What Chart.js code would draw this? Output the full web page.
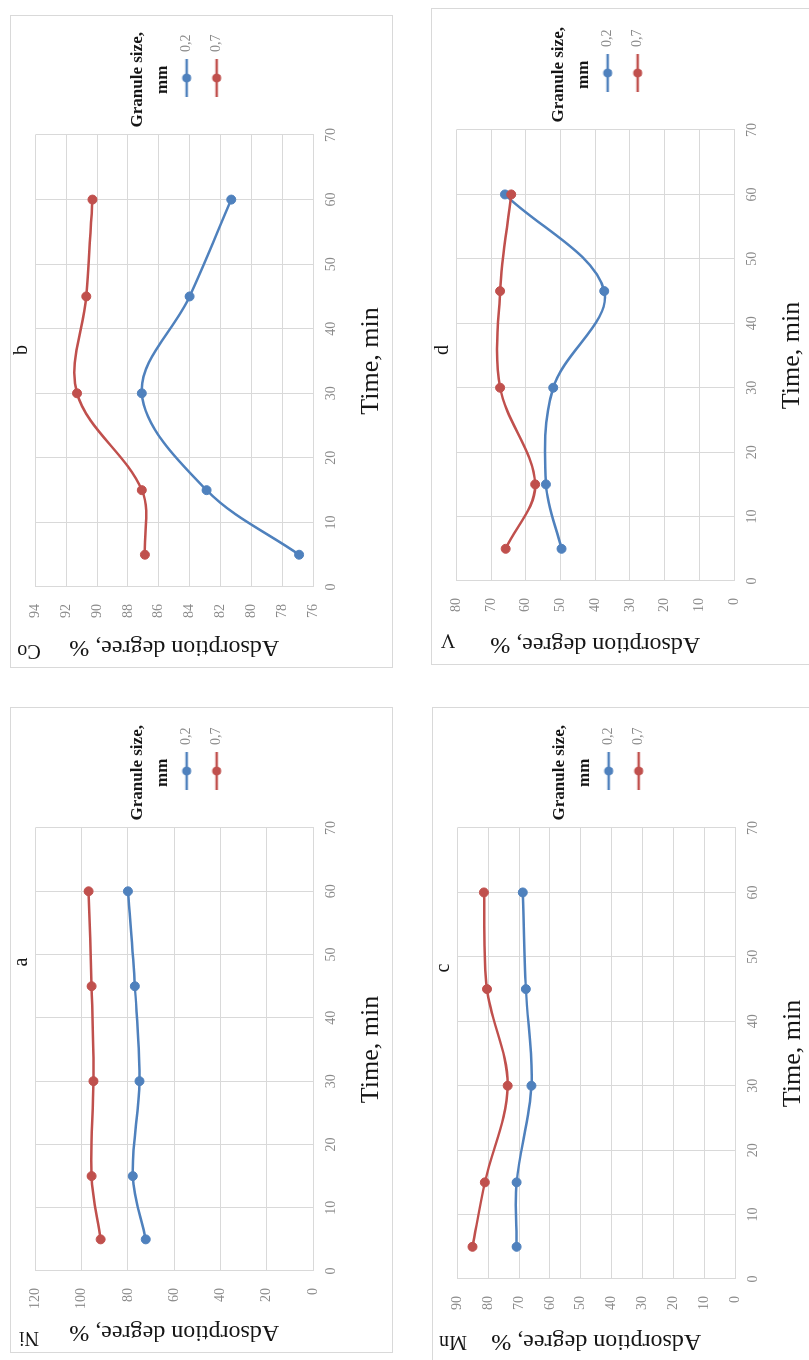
<!DOCTYPE html>
<html>
<head>
<meta charset="utf-8">
<script src="https://cdn.jsdelivr.net/npm/chart.js@4.4.1/dist/chart.umd.min.js"></script>
<style>
html, body { margin: 0; padding: 0; background: #fff; }
body { width: 809px; height: 1360px; overflow: hidden; position: relative; }
.panel { position: absolute; transform-origin: 0 0; transform: rotate(-90deg); }
.panel canvas { display: block; background: #fff; }
</style>
</head>
<body>
<div class="panel" id="pa"><canvas id="ca"></canvas></div>
<div class="panel" id="pb"><canvas id="cb"></canvas></div>
<div class="panel" id="pc"><canvas id="cc"></canvas></div>
<div class="panel" id="pd"><canvas id="cd"></canvas></div>
<script>
// ---------- data ----------
const timeMin = [5, 15, 30, 45, 60];
const granuleLabels = ['0,2', '0,7'];

const niSize02 = [72.3, 77.9, 75.0, 77.0, 80.0];
const niSize07 = [91.8, 95.7, 94.9, 95.7, 97.0];
const coSize02 = [76.9, 82.9, 87.1, 84.0, 81.3];
const coSize07 = [86.9, 87.1, 91.3, 90.7, 90.3];
const mnSize02 = [70.8, 70.8, 66.0, 67.8, 68.8];
const mnSize07 = [85.1, 81.1, 73.7, 80.4, 81.4];
const vSize02  = [49.7, 54.2, 52.1, 37.4, 66.0];
const vSize07  = [65.8, 57.3, 67.4, 67.4, 64.2];

const timeTicks = [0, 70, 10];      // min, max, step
const niRange = [0, 120, 20];
const coRange = [76, 94, 2];
const mnRange = [0, 90, 10];
const vRange  = [0, 80, 10];

const panelLetters = ['a', 'b', 'c', 'd'];
const elementNames = ['Ni', 'Co', 'Mn', 'V'];
const axisTitles = ['Time, min', 'Adsorption degree, %'];
const legendTitle = ['Granule size,', 'mm'];

// ---------- layout / style ----------
const H = 383;
const CHART_TOP = 20;
const CHART_BOTTOM = 303;
const layoutSpec = {
  a: { left: 10,  top: 707, W: 646, chartLeft: 82, chartRight: 525, letterU: 391, elemU: 16, elemV: 19 },
  b: { left: 10,  top: 15,  W: 653, chartLeft: 81, chartRight: 533, letterU: 318, elemU: 18, elemV: 19 },
  c: { left: 432, top: 707, W: 655, chartLeft: 83, chartRight: 534, letterU: 394, elemU: 21, elemV: 21 },
  d: { left: 431, top: 8,   W: 657, chartLeft: 84, chartRight: 535, letterU: 315, elemU: 26, elemV: 17 }
};
const BLUE = '#4F81BD', RED = '#C0504D';
const SERIF = '"Liberation Serif", "Times New Roman", serif';
const TICK_COLOR = '#8a8a8a';
const GRID_COLOR = '#d9d9d9';
const TEXT_DARK = '#151515';
const LEGEND_FONT = 14;
const ICON_W = 60;

function makeIcon(color) {
  const c = document.createElement('canvas');
  c.width = ICON_W; c.height = 12;
  const g = c.getContext('2d');
  g.strokeStyle = color; g.fillStyle = color; g.lineWidth = 2.5;
  g.beginPath(); g.moveTo(22, 6); g.lineTo(ICON_W, 6); g.stroke();
  g.beginPath(); g.arc(41, 6, 4.5, 0, Math.PI * 2); g.fill();
  return c;
}
const icons = [makeIcon(BLUE), makeIcon(RED)];

const measureCtx = document.createElement('canvas').getContext('2d');
measureCtx.font = LEGEND_FONT + 'px ' + SERIF;
const legendTextW = Math.max(...granuleLabels.map(t => measureCtx.measureText(t).width));
const LEGEND_PAD = 16;
const legendWidth = LEGEND_PAD + ICON_W + LEGEND_FONT / 2 + legendTextW + 10;

const decorPlugin = {
  id: 'panelDecor',
  afterDraw(chart, args, o) {
    const c = chart.ctx;
    c.save();
    c.strokeStyle = GRID_COLOR; c.lineWidth = 1;
    c.strokeRect(0.5, 0.5, chart.width - 1, chart.height - 1);
    c.fillStyle = TEXT_DARK;
    c.font = '20px ' + SERIF;
    c.textAlign = 'center'; c.textBaseline = 'middle';
    c.fillText(o.letter, o.letterU, o.letterV);
    c.translate(o.elemU, o.elemV);
    c.rotate(-Math.PI / 2);
    c.fillText(o.element, 0, 0);
    c.restore();
  }
};

function points(xs, ys) { return xs.map((x, i) => ({ x: x, y: ys[i] })); }

function seriesStyle(color) {
  return {
    borderColor: color, backgroundColor: color,
    pointBackgroundColor: color, pointBorderColor: color,
    borderWidth: 2.5, pointRadius: 4.5, pointHoverRadius: 4.5, pointBorderWidth: 1,
    tension: 0.35, fill: false
  };
}

function buildPanel(key, letter, element, s02, s07, range) {
  const L = layoutSpec[key];
  const wrap = document.getElementById('p' + key);
  wrap.style.left = L.left + 'px';
  wrap.style.top = (L.top + L.W) + 'px';
  const cv = document.getElementById('c' + key);
  cv.width = L.W; cv.height = H;
  cv.style.width = L.W + 'px'; cv.style.height = H + 'px';
  const padRight = Math.max(0, L.W - L.chartRight - legendWidth);

  new Chart(cv.getContext('2d'), {
    type: 'line',
    data: {
      datasets: [
        Object.assign({ label: granuleLabels[0], data: points(timeMin, s02), order: 1 }, seriesStyle(BLUE)),
        Object.assign({ label: granuleLabels[1], data: points(timeMin, s07), order: 0 }, seriesStyle(RED))
      ]
    },
    options: {
      responsive: false,
      animation: false,
      devicePixelRatio: 1,
      events: [],
      layout: { padding: { top: CHART_TOP, right: padRight, bottom: 0, left: 0 } },
      scales: {
        x: {
          type: 'linear', position: 'bottom',
          min: timeTicks[0], max: timeTicks[1],
          ticks: { stepSize: timeTicks[2], padding: 10, maxRotation: 0, color: TICK_COLOR, font: { family: SERIF, size: 14 } },
          grid: { color: GRID_COLOR, lineWidth: 1, drawTicks: false },
          border: { color: GRID_COLOR },
          title: { display: true, text: axisTitles[0], color: TEXT_DARK, font: { family: SERIF, size: 26 }, padding: { top: 0, bottom: 6 } },
          afterFit(s) { s.height = H - CHART_BOTTOM; }
        },
        y: {
          type: 'linear', position: 'left',
          min: range[0], max: range[1],
          ticks: { stepSize: range[2], padding: 17, color: TICK_COLOR, font: { family: SERIF, size: 14 } },
          grid: { color: GRID_COLOR, lineWidth: 1, drawTicks: false },
          border: { color: GRID_COLOR },
          title: { display: true, text: axisTitles[1], color: TEXT_DARK, font: { family: SERIF, size: 24 }, padding: { top: 6, bottom: 0 } },
          afterFit(s) { s.width = L.chartLeft; }
        }
      },
      plugins: {
        tooltip: { enabled: false },
        legend: {
          display: true, position: 'right', align: 'start',
          title: {
            display: true, text: legendTitle, color: TEXT_DARK,
            font: { family: SERIF, size: 17, weight: 'bold', lineHeight: 1.45 },
            padding: { top: 99, bottom: 10 }
          },
          labels: {
            usePointStyle: true, pointStyleWidth: ICON_W, padding: LEGEND_PAD,
            color: TICK_COLOR, font: { family: SERIF, size: LEGEND_FONT },
            sort: (a, b) => a.datasetIndex - b.datasetIndex,
            generateLabels(chart) {
              const items = Chart.defaults.plugins.legend.labels.generateLabels(chart);
              items.forEach(it => { it.pointStyle = icons[it.datasetIndex]; });
              return items;
            }
          }
        },
        panelDecor: { letter: letter, element: element, letterU: L.letterU, letterV: 12, elemU: L.elemU, elemV: L.elemV }
      }
    },
    plugins: [decorPlugin]
  });
}

buildPanel('a', panelLetters[0], elementNames[0], niSize02, niSize07, niRange);
buildPanel('b', panelLetters[1], elementNames[1], coSize02, coSize07, coRange);
buildPanel('c', panelLetters[2], elementNames[2], mnSize02, mnSize07, mnRange);
buildPanel('d', panelLetters[3], elementNames[3], vSize02, vSize07, vRange);
</script>
</body>
</html>
